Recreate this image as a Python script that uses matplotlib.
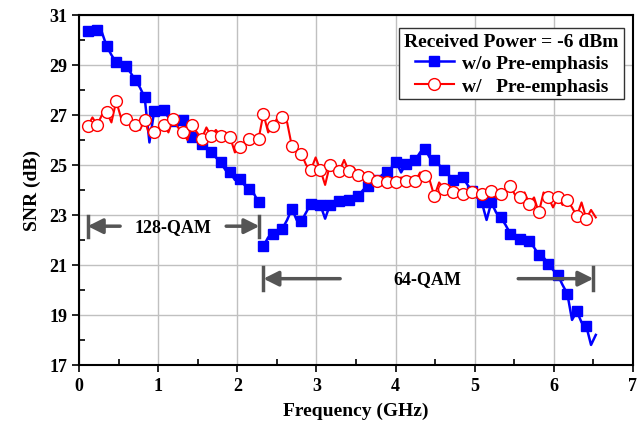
import numpy as np
import matplotlib
matplotlib.use('Agg')
import matplotlib.pyplot as plt
from matplotlib.lines import Line2D

#data
freq = np.round(0.11 + 0.06*np.arange(108), 2)   # GHz

snr_wo = [30.35, 30.4, 30.4, 30.3, 29.75, 29.4, 29.1, 29.0, 28.95, 28.7,
          28.4, 28.1, 27.7, 25.9, 27.15, 27.1, 27.2, 26.9, 26.75, 26.6,
          26.8, 26.4, 26.1, 26.2, 25.85, 25.7, 25.5, 25.3, 25.1, 24.8,
          24.7, 24.4, 24.45, 24.2, 24.05, 23.85, 23.5,
          21.75, 22.1, 22.25, 22.35, 22.45, 22.8, 23.25, 22.8, 22.75, 23.1,
          23.45, 23.3, 23.4, 22.85, 23.4, 23.5, 23.55, 23.5, 23.6, 23.7,
          23.75, 24.0, 24.15, 24.3, 24.4, 24.6, 24.7, 24.9, 25.1, 24.7,
          25.05, 25.15, 25.2, 25.5, 25.65, 25.3, 25.2, 25.0, 24.8, 24.6,
          24.4, 24.3, 24.5, 24.2, 23.95, 23.7, 23.5, 22.8, 23.5, 23.1,
          22.9, 22.6, 22.25, 22.1, 22.05, 22.0, 21.95, 21.7, 21.4, 21.3,
          21.05, 20.8, 20.6, 20.2, 19.85, 18.8, 19.15, 18.7, 18.55, 17.8,
          18.2]

snr_w = [26.55, 26.9, 26.6, 27.0, 27.1, 26.7, 27.55, 26.9, 26.85, 26.75,
         26.6, 26.4, 26.8, 26.2, 26.3, 26.5, 26.6, 26.3, 26.85, 26.5,
         26.3, 26.0, 26.6, 26.3, 26.05, 26.5, 26.15, 26.4, 26.15, 26.3,
         26.1, 25.5, 25.7, 25.9, 26.05, 26.0, 26.05,
         27.05, 26.3, 26.55, 26.9, 26.9, 26.7, 25.75, 25.6, 25.45, 25.0,
         24.8, 25.3, 24.8, 24.2, 25.0, 24.7, 24.75, 25.2, 24.75, 24.9,
         24.6, 24.7, 24.5, 24.6, 24.35, 24.5, 24.3, 24.4, 24.3, 24.5,
         24.35, 24.5, 24.35, 24.7, 24.55, 24.4, 23.75, 24.3, 24.05, 24.2,
         23.9, 24.0, 23.85, 24.0, 23.9, 23.7, 23.85, 24.0, 23.95, 23.7,
         23.85, 23.9, 24.15, 23.8, 23.7, 23.9, 23.45, 23.7, 23.1, 23.9,
         23.7, 23.3, 23.7, 23.4, 23.6, 23.3, 22.95, 23.5, 22.85, 23.2,
         22.9]

snr_wo = np.array(snr_wo)
snr_w = np.array(snr_w)
brk = 37   # blue trace is broken at the modulation switch

#marker positions along the dense trace
marks = list(range(0, brk, 2)) + list(range(brk, 106, 2))

#typography
plt.rcParams['font.family'] = ['Liberation Serif', 'DejaVu Serif']
plt.rcParams['font.weight'] = 'bold'
plt.rcParams['mathtext.default'] = 'regular'

fig = plt.figure(figsize=(6.37, 4.31), dpi=100)
ax = fig.add_axes([0.124, 0.151, 0.8697, 0.812])

#blue: w/o pre-emphasis
mk1 = [m for m in marks if m < brk]
mk2 = [m - brk for m in marks if m >= brk]
ax.plot(freq[:brk], snr_wo[:brk], color='#0000ff', lw=1.8, marker='s', ms=6.5,
        markevery=mk1, zorder=3)
ax.plot(freq[brk:], snr_wo[brk:], color='#0000ff', lw=1.8, marker='s', ms=6.5,
        markevery=mk2, zorder=3)

#red: w/ pre-emphasis
ax.plot(freq, snr_w, color='#ff0000', lw=1.5, marker='o', ms=8.5,
        mfc='white', mec='#ff0000', mew=1.0, markevery=marks, zorder=4)

#annotations
acol = '#555555'
aprops = dict(arrowstyle='-|>,head_length=0.9,head_width=0.45', color=acol, lw=2.5,
              shrinkA=0, shrinkB=0)
ax.annotate('', xy=(0.11, 22.55), xytext=(0.52, 22.55), arrowprops=aprops)
ax.annotate('', xy=(2.28, 22.55), xytext=(1.86, 22.55), arrowprops=aprops)
ax.plot([0.11, 0.11], [22.1, 22.95], color=acol, lw=2.5)
ax.plot([2.28, 2.28], [22.1, 22.95], color=acol, lw=2.5)
ax.text(1.19, 22.55, '128-QAM', ha='center', va='center', fontsize=13, fontweight='bold')

ax.annotate('', xy=(2.33, 20.45), xytext=(3.3, 20.45), arrowprops=aprops)
ax.annotate('', xy=(6.5, 20.45), xytext=(5.55, 20.45), arrowprops=aprops)
ax.plot([2.33, 2.33], [20.0, 20.9], color=acol, lw=2.5)
ax.plot([6.5, 6.5], [20.0, 20.9], color=acol, lw=2.5)
ax.text(4.4, 20.45, '64-QAM', ha='center', va='center', fontsize=13, fontweight='bold')

#axes
ax.set_xlim(0, 7)
ax.set_ylim(17, 31)
ax.set_xticks(np.arange(0, 8, 1))
ax.set_yticks(np.arange(17, 32, 2))
ax.set_xticks(np.arange(0.5, 7, 1), minor=True)
ax.set_yticks(np.arange(18, 31, 2), minor=True)
ax.tick_params(which='both', top=False, right=False, labelsize=13, width=1.2)
ax.tick_params(which='major', direction='out', length=5)
ax.tick_params(which='minor', direction='in', length=4)
ax.grid(True, which='major', color='#c0c0c0', lw=1)
ax.set_axisbelow(True)
for sp in ax.spines.values():
    sp.set_linewidth(1.5)
ax.set_xlabel('Frequency (GHz)', fontsize=14, fontweight='bold', labelpad=6)
ax.set_ylabel('SNR (dB)', fontsize=14, fontweight='bold', labelpad=6)

#legend
handles = [Line2D([], [], color='#0000ff', lw=1.8, marker='s', ms=6.5),
           Line2D([], [], color='#ff0000', lw=1.5, marker='o', ms=8.5, mfc='white')]
leg = ax.legend(handles, ['w/o Pre-emphasis', 'w/   Pre-emphasis'],
                title='Received Power = -6 dBm', loc='upper right',
                bbox_to_anchor=(0.9935, 0.98), fontsize=14,
                title_fontproperties={'size': 14, 'weight': 'bold'},
                fancybox=False, edgecolor='#333333', framealpha=1,
                handlelength=2.0, handletextpad=0.4, borderpad=0.25,
                labelspacing=0.25, borderaxespad=0.3)
leg.get_frame().set_linewidth(1)

fig.savefig('out.png', dpi=100)
